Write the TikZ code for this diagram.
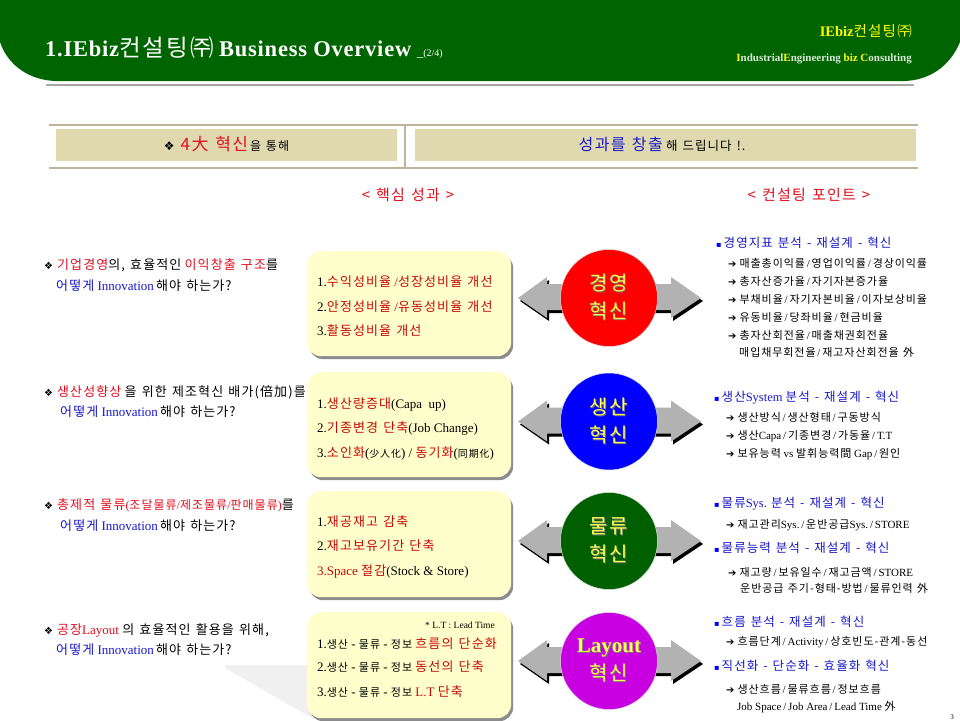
\documentclass[tikz,border=0pt]{standalone}
\usepackage{fontspec}
\setmainfont{Liberation Serif}
\newfontfamily\krfont[LetterSpace=8.5,WordSpace=1.3]{Noto Sans CJK KR}
\newfontfamily\symfont{DejaVu Sans}
\newfontfamily\wideserif[LetterSpace=3.4]{Liberation Serif}
\usetikzlibrary{shapes.geometric,shadows}
\definecolor{hdgreen}{HTML}{006400}
\definecolor{rulegray}{HTML}{A6A6A6}
\definecolor{tanline}{HTML}{BDB59B}
\definecolor{tanfill}{HTML}{E0D9B0}
\definecolor{boxyellow}{HTML}{FFFFCC}
\definecolor{txtred}{HTML}{E01020}
\definecolor{itemred}{HTML}{C80808}
\definecolor{txtblue}{HTML}{1818CC}
\definecolor{hdyellow}{HTML}{FFFF00}
\definecolor{capyellow}{HTML}{FFFF55}
\definecolor{arrowgray}{HTML}{B2B2B2}
\newcommand{\K}[1]{{\krfont #1}}
\newcommand{\Ks}[1]{{\fontsize{11}{13}\selectfont\krfont #1}}
\newcommand{\R}[1]{{\krfont\color{txtred}#1}}
\newcommand{\Ri}[1]{{\krfont\color{itemred}#1}}
\newcommand{\B}[1]{{\krfont\color{txtblue}#1}}
\newcommand{\Inno}{\textcolor{txtblue}{Innovation}}
\newcommand{\diam}{{\symfont\fontsize{10}{10}\selectfont ❖}\kern4pt}
\newcommand{\sqb}{{\symfont\fontsize{8}{8}\selectfont\color{blue}▪}\,}
\newcommand{\arr}{{\symfont\fontsize{10}{10}\selectfont ➔}\kern3pt}
\newcommand{\slh}{\,/\,}
\newcommand{\capt}[1]{\leavevmode\rlap{\kern1pt\raisebox{-1pt}{\textcolor{black!55}{#1}}}#1}
\begin{document}
\begin{tikzpicture}[x=1pt,y=-1pt,
		lbl/.style={anchor=west,inner sep=0pt,text height=11pt,text depth=1pt,font=\fontsize{13}{15}\selectfont},
		item/.style={lbl,font=\fontsize{13}{15}\selectfont},
		head/.style={lbl,font=\fontsize{12.5}{14}\selectfont},
		sub/.style={lbl,font=\fontsize{11}{13}\selectfont},
		band/.style={fill=tanfill,inner sep=0pt,anchor=north west},
		itembox/.style={fill=boxyellow,rounded corners=14pt,inner sep=0pt,anchor=north west,minimum width=204pt,
			drop shadow={shadow xshift=2pt,shadow yshift=-3pt,fill=black,opacity=.45}},
		hub/.style={circle,inner sep=0pt,minimum size=97pt,draw=white!75!gray,line width=.5pt,
			align=center,text=capyellow,font=\fontsize{20}{28}\selectfont}
	]
	\useasboundingbox (0,0) rectangle (960,720);
	\fill[white] (0,0) rectangle (960,720);

	% header
	\fill[hdgreen] (0,0) -- (960,0) -- (960,42) .. controls (950,66) and (930,80) .. (905,81)
		-- (55,81) .. controls (30,80) and (8,66) .. (0,42) -- cycle;
	\draw[rulegray,line width=2.4pt] (46,85) coordinate (rl) -- (914,85) coordinate (rr);
	\node[lbl,anchor=west,text=white,font=\fontsize{22.5}{24}\selectfont\bfseries] (title) at (45,51)
		{{\wideserif 1.IEbiz}{\mdseries\fontsize{23.5}{24}\selectfont\krfont 컨설팅㈜} {\wideserif Business Overview} {\mdseries\fontsize{13}{13}\selectfont\_\fontsize{10}{10}\selectfont (2/4)}};
	\node[lbl,anchor=east,text=hdyellow,font=\fontsize{14.5}{16}\selectfont\bfseries] (firm) at (912,31)
		{IEbiz{\mdseries\krfont 컨설팅㈜}};
	\node[lbl,anchor=east,text=white!85!hdgreen,font=\fontsize{11}{13}\selectfont\bfseries] (firmsub) at (912,56)
		{\textcolor{hdyellow}{I}ndustrial\textcolor{hdyellow}{E}ngineering \textcolor{hdyellow}{biz} \textcolor{hdyellow}{C}onsulting};

	% top band
	\draw[tanline,line width=2pt] (49,124.5) coordinate (tl) -- (918,124.5) coordinate (tr);
	\draw[tanline,line width=2pt] (49,167.5) coordinate (bl) -- (918,167.5) coordinate (br);
	\draw[tanline,line width=1.5pt] (405,124.5) coordinate (dt) -- (405,167.5) coordinate (db);
	\node[band,minimum width=341pt,minimum height=32pt] (bandl) at (56,129) {};
	\node[band,minimum width=501pt,minimum height=32pt] (bandr) at (415,129) {};
	\node[lbl,anchor=center,text depth=3pt] (bandlt) at (226.5,146) {{\symfont\fontsize{12}{12}\selectfont ❖}\kern6pt{\fontsize{17}{18}\selectfont\R{4大 혁신}}\kern2pt{\fontsize{12}{12}\selectfont\K{을 통해}}};
	\node[lbl,anchor=center,text depth=3pt] (bandrt) at (662,146) {{\fontsize{16}{18}\selectfont\B{성과를 창출}} {\fontsize{12.5}{14}\selectfont\K{해 드립니다 !.}}};
	\node[lbl,anchor=center,font=\fontsize{15}{17}\selectfont] (capa) at (408,195) {\R{< 핵심 성과 >}};
	\node[lbl,anchor=center,font=\fontsize{15}{17}\selectfont] (capb) at (809,195) {\R{< 컨설팅 포인트 >}};

	% light shape behind the last box
	\fill[black!6] (225,665) -- (307,665) -- (312,718) -- (227,669) -- cycle;

	\foreach \nm/\yy/\hh in {boxa/251/105,boxb/372/105,boxc/491/106,boxd/612/106}
		\node[itembox,minimum height=\hh pt] (\nm) at (307,\yy) {};

	% arrows
	\foreach \yy in {298,421.5,541,661}{
		\begin{scope}[shift={(0,\yy)}]
			\fill[black,shift={(2,3)}] (518,0) -- (547,-21) -- (547,-14) -- (671,-14) -- (671,-21) -- (701,0) -- (671,20) -- (671,12) -- (547,12) -- (547,20) -- cycle;
			\fill[arrowgray] (518,0) -- (547,-21) -- (547,-14) -- (671,-14) -- (671,-21) -- (701,0) -- (671,20) -- (671,12) -- (547,12) -- (547,20) -- cycle;
		\end{scope}
	}

	\node[hub,fill=red] (hubmgmt) at (609,298) {\K{\capt{경영}}\\\K{\capt{혁신}}};
	\node[hub,fill=blue] (hubprod) at (609,421.5) {\K{\capt{생산}}\\\K{\capt{혁신}}};
	\node[hub,fill={rgb,255:red,0;green,96;blue,0}] (hublog) at (609,541) {\K{\capt{물류}}\\\K{\capt{혁신}}};
	\node[hub,fill={rgb,255:red,200;green,0;blue,225}] (hublay) at (609,661) {\capt{\bfseries\fontsize{21}{24}\selectfont Layout}\\\K{\capt{혁신}}};

	% questions
	\node[lbl] (qa) at (44,264) {\diam\R{기업경영}\K{의, 효율적인} \R{이익창출 구조}\K{를}};
	\node[lbl] (qb) at (56,285) {\B{어떻게} \Inno\,\K{해야 하는가?}};
	\node[lbl] (qc) at (44,391) {\diam\R{생산성향상} \K{을 위한 제조혁신 배가(倍加)를}};
	\node[lbl] (qd) at (60,411) {\B{어떻게} \Inno\,\K{해야 하는가?}};
	\node[lbl] (qe) at (44,504) {\diam\R{총제적 물류}{\fontsize{12}{14}\selectfont\textcolor{txtred}{(}\R{조달물류}\textcolor{txtred}{/}\R{제조물류}\textcolor{txtred}{/}\R{판매물류}\textcolor{txtred}{)}}\K{를}};
	\node[lbl] (qf) at (60,525) {\B{어떻게} \Inno\,\K{해야 하는가?}};
	\node[lbl] (qg) at (44,629) {\diam\R{공장}\textcolor{txtred}{Layout} \K{의 효율적인 활용을 위해,}};
	\node[lbl] (qh) at (56,649) {\B{어떻게} \Inno\,\K{해야 하는가?}};

	% box items
	\node[item] (ia) at (317,281) {1.\Ri{수익성비율} \textcolor{itemred}{/}\Ri{성장성비율 개선}};
	\node[item] (ib) at (317,306) {2.\Ri{안정성비율} \textcolor{itemred}{/}\Ri{유동성비율 개선}};
	\node[item] (ic) at (317,330) {3.\Ri{활동성비율 개선}};
	\node[item] (id) at (317,403) {1.\Ri{생산량증대}(Capa\ \ up)};
	\node[item] (ie) at (317,427) {2.\Ri{기종변경 단축}(Job Change)};
	\node[item] (if) at (317,452) {3.\Ri{소인화}(\K{\fontsize{10}{10}\selectfont 少人化}) / \Ri{동기화}(\K{\fontsize{10}{10}\selectfont 同期化})};
	\node[item] (ig) at (317,521.5) {1.\Ri{재공재고 감축}};
	\node[item] (ih) at (317,545.5) {2.\Ri{재고보유기간 단축}};
	\node[item] (ii) at (317,570.5) {\textcolor{itemred}{3.Space} \Ri{절감}(Stock \& Store)};
	\node[lbl,anchor=east,font=\fontsize{9.5}{11}\selectfont] (ij) at (495,623) {* L.T : Lead Time};
	\node[item] (ik) at (317,643) {1.\Ks{생산} - \Ks{물류} - \Ks{정보} \Ri{흐름의 단순화}};
	\node[item] (il) at (317,666) {2.\Ks{생산} - \Ks{물류} - \Ks{정보} \Ri{동선의 단축}};
	\node[item] (im) at (317,691) {3.\Ks{생산} - \Ks{물류} - \Ks{정보} \textcolor{itemred}{L.T} \Ri{단축}};

	% consulting points
	\node[head] (pa) at (716,242) {\sqb\B{경영지표 분석 - 재설계 - 혁신}};
	\node[sub] (pa1) at (728,262.5) {\arr\K{매출총이익률}\slh\K{영업이익률}\slh\K{경상이익률}};
	\node[sub] (pa2) at (728,280) {\arr\K{총자산증가율}\slh\K{자기자본증가율}};
	\node[sub] (pa3) at (728,298) {\arr\K{부채비율}\slh\K{자기자본비율}\slh\K{이자보상비율}};
	\node[sub] (pa4) at (728,316) {\arr\K{유동비율}\slh\K{당좌비율}\slh\K{현금비율}};
	\node[sub] (pa5) at (728,334) {\arr\K{총자산회전율}\slh\K{매출채권회전율}};
	\node[sub] (pa6) at (739,351.5) {\K{매입채무회전율}\slh\K{재고자산회전율 外}};

	\node[head] (pb) at (714,396) {\sqb\B{생산}\textcolor{txtblue}{System} \B{분석 - 재설계 - 혁신}};
	\node[sub] (pb1) at (726,416) {\arr\K{생산방식}\slh\K{생산형태}\slh\K{구동방식}};
	\node[sub] (pb2) at (726,434) {\arr\K{생산}Capa\slh\K{기종변경}\slh\K{가동율}\slh T.T};
	\node[sub] (pb3) at (726,452) {\arr\K{보유능력} vs \K{발휘능력間} Gap\slh\K{원인}};

	\node[head] (pc) at (714,502.5) {\sqb\B{물류}\textcolor{txtblue}{Sys.} \B{분석 - 재설계 - 혁신}};
	\node[sub] (pc1) at (726,523) {\arr\K{재고관리}Sys.\slh\K{운반공급}Sys.\slh STORE};
	\node[head] (pd) at (714,547.5) {\sqb\B{물류능력 분석 - 재설계 - 혁신}};
	\node[sub] (pd1) at (728,571) {\arr\K{재고량}\slh\K{보유일수}\slh\K{재고금액}\slh STORE};
	\node[sub] (pd2) at (740,587) {\K{운반공급 주기-형태-방법}\slh\K{물류인력 外}};

	\node[head] (pe) at (714,621) {\sqb\B{흐름 분석 - 재설계 - 혁신}};
	\node[sub] (pe1) at (726,640) {\arr\K{흐름단계}\slh Activity\slh\K{상호빈도-관계-동선}};
	\node[head] (pf) at (714,665) {\sqb\B{직선화 - 단순화 - 효율화 혁신}};
	\node[sub] (pf1) at (726,688.5) {\arr\K{생산흐름}\slh\K{물류흐름}\slh\K{정보흐름}};
	\node[sub] (pf2) at (737,705.5) {Job Space\slh Job Area\slh Lead Time \K{外}};

	\node[lbl,anchor=center,font=\fontsize{7}{8}\selectfont] (pageno) at (952,714) {3};
\end{tikzpicture}
\end{document}
